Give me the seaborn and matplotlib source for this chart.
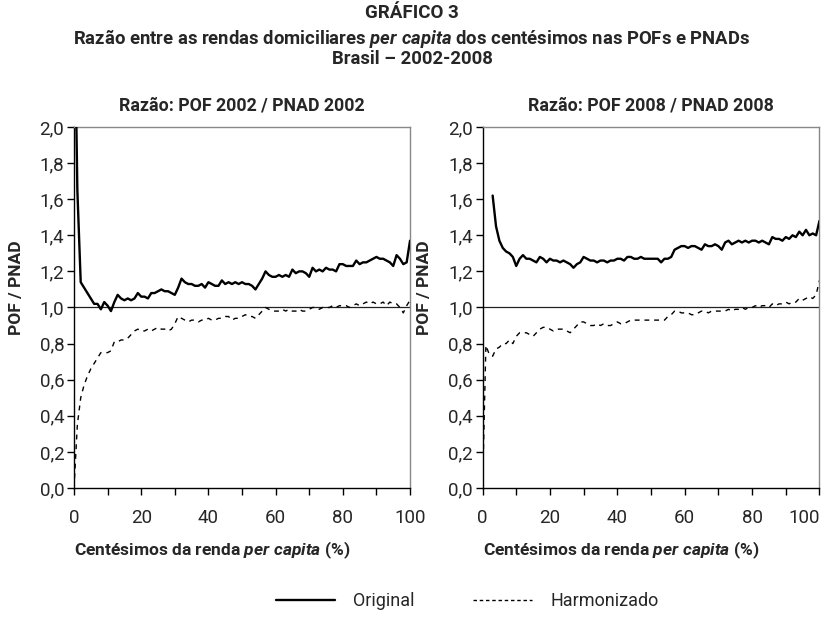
import numpy as np
import pandas as pd
import matplotlib
matplotlib.use("Agg")
import matplotlib.pyplot as plt
from matplotlib.ticker import FuncFormatter, MultipleLocator
from matplotlib.lines import Line2D
import seaborn as sns

# ---------------------------------------------------------------------------
# Data: ratio POF / PNAD by income centile
# ---------------------------------------------------------------------------

centiles = list(range(0, 101))

ratio_2002_original = [
    2.90, 1.65, 1.14, 1.11, 1.08, 1.05, 1.02, 1.02, 0.99, 1.03,
    1.01, 0.98, 1.03, 1.07, 1.05, 1.04, 1.05, 1.04, 1.05, 1.08,
    1.06, 1.06, 1.05, 1.08, 1.08, 1.09, 1.10, 1.09, 1.09, 1.08,
    1.07, 1.11, 1.16, 1.14, 1.13, 1.13, 1.12, 1.12, 1.13, 1.11,
    1.14, 1.13, 1.12, 1.12, 1.15, 1.13, 1.14, 1.13, 1.14, 1.13,
    1.14, 1.13, 1.13, 1.12, 1.10, 1.13, 1.16, 1.20, 1.18, 1.17,
    1.17, 1.18, 1.17, 1.18, 1.17, 1.21, 1.19, 1.20, 1.20, 1.19,
    1.17, 1.22, 1.20, 1.21, 1.20, 1.22, 1.21, 1.21, 1.20, 1.24,
    1.24, 1.23, 1.23, 1.23, 1.26, 1.24, 1.25, 1.25, 1.26, 1.27,
    1.28, 1.27, 1.27, 1.26, 1.25, 1.23, 1.29, 1.27, 1.24, 1.25,
    1.37,
]

ratio_2002_harmonized = [
    0.00, 0.35, 0.50, 0.57, 0.62, 0.66, 0.69, 0.72, 0.75, 0.75,
    0.75, 0.76, 0.81, 0.81, 0.82, 0.82, 0.83, 0.85, 0.87, 0.88,
    0.87, 0.87, 0.88, 0.87, 0.88, 0.89, 0.88, 0.88, 0.87, 0.88,
    0.91, 0.95, 0.94, 0.93, 0.92, 0.93, 0.93, 0.92, 0.93, 0.93,
    0.94, 0.93, 0.93, 0.94, 0.94, 0.95, 0.95, 0.93, 0.94, 0.94,
    0.95, 0.96, 0.95, 0.95, 0.94, 0.96, 0.98, 1.00, 0.99, 0.98,
    0.98, 0.98, 0.99, 0.98, 0.99, 0.98, 0.98, 0.99, 0.98, 0.98,
    0.99, 1.00, 1.00, 0.99, 1.00, 1.00, 1.00, 1.01, 1.00, 1.01,
    1.01, 1.01, 1.00, 1.01, 1.02, 1.01, 1.02, 1.03, 1.02, 1.03,
    1.02, 1.02, 1.03, 1.01, 1.03, 1.02, 1.02, 1.00, 0.97, 1.01,
    1.04,
]

ratio_2008_original = [
    np.nan, np.nan, np.nan, 1.62, 1.45, 1.37, 1.33, 1.31, 1.30, 1.28,
    1.23, 1.27, 1.29, 1.27, 1.27, 1.26, 1.25, 1.28, 1.27, 1.25,
    1.27, 1.26, 1.26, 1.25, 1.26, 1.25, 1.24, 1.22, 1.24, 1.25,
    1.28, 1.27, 1.26, 1.26, 1.25, 1.26, 1.26, 1.25, 1.26, 1.26,
    1.27, 1.27, 1.26, 1.28, 1.28, 1.27, 1.27, 1.28, 1.27, 1.27,
    1.27, 1.27, 1.27, 1.25, 1.27, 1.27, 1.28, 1.32, 1.33, 1.34,
    1.34, 1.33, 1.34, 1.34, 1.33, 1.32, 1.35, 1.34, 1.34, 1.35,
    1.34, 1.32, 1.36, 1.37, 1.35, 1.36, 1.37, 1.36, 1.37, 1.36,
    1.37, 1.37, 1.36, 1.37, 1.36, 1.35, 1.39, 1.38, 1.38, 1.37,
    1.39, 1.38, 1.40, 1.39, 1.42, 1.40, 1.43, 1.40, 1.41, 1.40,
    1.48,
]

ratio_2008_harmonized = [
    0.00, 0.79, 0.74, 0.73, 0.77, 0.78, 0.80, 0.80, 0.82, 0.80,
    0.84, 0.86, 0.86, 0.86, 0.85, 0.84, 0.86, 0.88, 0.89, 0.89,
    0.88, 0.87, 0.88, 0.88, 0.88, 0.87, 0.86, 0.88, 0.90, 0.92,
    0.92, 0.91, 0.90, 0.90, 0.91, 0.90, 0.91, 0.90, 0.90, 0.91,
    0.92, 0.91, 0.91, 0.92, 0.93, 0.93, 0.93, 0.93, 0.93, 0.93,
    0.93, 0.93, 0.93, 0.93, 0.93, 0.95, 0.96, 0.98, 0.98, 0.97,
    0.97, 0.97, 0.96, 0.96, 0.97, 0.98, 0.98, 0.97, 0.98, 0.98,
    0.98, 0.98, 0.98, 0.99, 0.98, 0.99, 0.99, 1.00, 0.99, 1.00,
    1.00, 1.01, 1.00, 1.01, 1.01, 1.00, 1.02, 1.01, 1.02, 1.02,
    1.03, 1.02, 1.03, 1.03, 1.05, 1.04, 1.05, 1.06, 1.05, 1.07,
    1.15,
]

panel_titles = ["Razão: POF 2002 / PNAD 2002", "Razão: POF 2008 / PNAD 2008"]
series_labels = ["Original", "Harmonizado"]
x_ticks = [0, 20, 40, 60, 80, 100]

# ---------------------------------------------------------------------------
# Style
# ---------------------------------------------------------------------------

sns.set_theme(style="white")
plt.rcParams["font.family"] = ["Roboto", "DejaVu Sans"]
plt.rcParams["mathtext.fontset"] = "custom"
plt.rcParams["mathtext.rm"] = "Roboto:bold"
plt.rcParams["mathtext.it"] = "Roboto:italic:bold"

fig = plt.figure(figsize=(8.24, 6.17), dpi=100, facecolor="white")
ax_left = fig.add_axes([0.0898, 0.2091, 0.4078, 0.5851])
ax_right = fig.add_axes([0.5856, 0.2091, 0.4089, 0.5851])

panels = [
    (ax_left, ratio_2002_original, ratio_2002_harmonized),
    (ax_right, ratio_2008_original, ratio_2008_harmonized),
]

comma_fmt = FuncFormatter(lambda v, pos: f"{v:.1f}".replace(".", ","))

for (ax, orig, harm), title in zip(panels, panel_titles):
    df = pd.DataFrame({"centil": centiles, "original": orig, "harmonizado": harm})
    ax.axhline(1.0, color="#222222", lw=0.9, zorder=1)
    sns.lineplot(data=df, x="centil", y="original", ax=ax, color="black",
                 lw=1.7, zorder=3)
    sns.lineplot(data=df, x="centil", y="harmonizado", ax=ax, color="black",
                 lw=1.0, zorder=2).lines[-1].set_dashes([3.5, 3.5])

    ax.set_xlim(0, 100)
    ax.set_ylim(0, 2.0)
    ax.set_xticks(x_ticks)
    ax.xaxis.set_minor_locator(MultipleLocator(10))
    ax.yaxis.set_major_locator(MultipleLocator(0.2))
    ax.yaxis.set_major_formatter(comma_fmt)
    ax.tick_params(axis="both", which="both", direction="out", length=5,
                   width=1, color="black", labelsize=13.5, bottom=True,
                   left=True, top=False, right=False, pad=2)
    ax.tick_params(axis="x", which="major", pad=10)
    for side in ["left", "bottom"]:
        ax.spines[side].set_color("black")
        ax.spines[side].set_linewidth(1.0)
    for side in ["top", "right"]:
        ax.spines[side].set_color("#888888")
        ax.spines[side].set_linewidth(1.0)

    ax.set_title(title, fontsize=12.8, fontweight="bold", pad=12)
    ax.set_ylabel("POF / PNAD", fontsize=12.5, fontweight="bold")
    ax.yaxis.set_label_coords(-0.15, 0.555)
    ax.set_xlabel(r"Centésimos da renda $\mathit{per\ capita}$ (%)",
                  fontsize=12.5, fontweight="bold", labelpad=9, loc="left")

# last tick label of the right panel sits inside the figure edge
ax_right.xaxis.get_major_ticks()[-1].label1.set_horizontalalignment("right")
ax_right.xaxis.get_major_ticks()[-1].label1.set_x(100)

fig.text(0.5, 0.979, "GRÁFICO 3", ha="center", va="center",
         fontsize=13.5, fontweight="bold")
fig.text(0.5, 0.938,
         r"Razão entre as rendas domiciliares $\mathit{per\ capita}$ dos centésimos nas POFs e PNADs",
         ha="center", va="center", fontsize=13.3, fontweight="bold")
fig.text(0.5, 0.904, "Brasil – 2002-2008", ha="center", va="center",
         fontsize=13.3, fontweight="bold")

handles = [
    Line2D([0], [0], color="black", lw=1.7),
    Line2D([0], [0], color="black", lw=1.0, dashes=[2.5, 2]),
]
fig.legend(handles, series_labels, loc="center", bbox_to_anchor=(0.567, 0.026),
           ncol=2, frameon=False, fontsize=13, handlelength=3.3,
           columnspacing=3.2, handletextpad=1.0)

plt.savefig("out.png", dpi=100, facecolor="white")
